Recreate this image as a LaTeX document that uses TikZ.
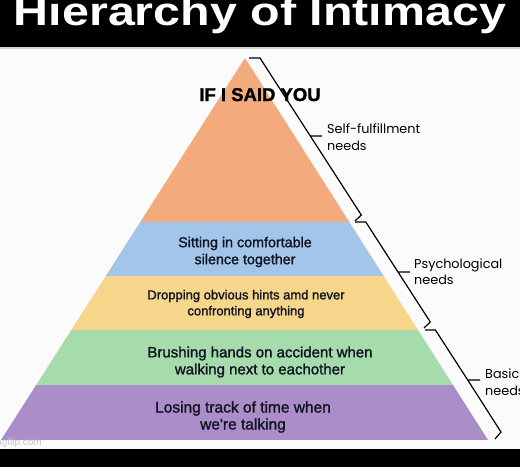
\documentclass[tikz,border=0pt]{standalone}
\usepackage{xcolor}
\usepackage{fontspec}
\usetikzlibrary{positioning}
\setmainfont{Liberation Sans}
\newfontfamily\layerfont{Liberation Sans}[FakeBold=1.4]
\newfontfamily\heavyfont{Liberation Sans Bold}[FakeBold=1.5]
\newfontfamily\needsfont{Poppins}
\definecolor{TopOrange} {HTML}{F3AA7D}
\definecolor{SkyBlue}   {HTML}{A2C5E9}
\definecolor{SoftYellow}{HTML}{F6D68A}
\definecolor{MintGreen} {HTML}{A6DBAC}
\definecolor{Lavender}  {HTML}{AB8DC9}
\definecolor{InkText}   {HTML}{101322}
\definecolor{PageBG}    {HTML}{FBFBFB}

\tikzset{
  layertext/.style={text=InkText,align=center,inner sep=0pt,
                    font=\layerfont\fontsize{14.3}{17}\selectfont},
  needslabel/.style={text=black,align=left,anchor=west,inner sep=0pt,
                     font=\needsfont\fontsize{12.8}{16.5}\selectfont},
  bracket/.style={draw=black,line width=1.2pt,line join=miter}
}

\begin{document}
\begin{tikzpicture}[x=1pt,y=-1pt]
    \clip (0,0) rectangle (520,467);
    \fill[PageBG] (0,0) rectangle (520,467);
    % pyramid layers
    \begin{scope}
      \clip (245,58) -- (488,440) -- (1,440) -- cycle;
      \fill[TopOrange]  (0,50)  rectangle (520,222);
      \fill[SkyBlue]    (0,222) rectangle (520,276);
      \fill[SoftYellow] (0,276) rectangle (520,330);
      \fill[MintGreen]  (0,330) rectangle (520,385);
      \fill[Lavender]   (0,385) rectangle (520,440);
    \end{scope}
    % title bands
    \fill[black] (0,0) rectangle (520,47);
    \draw[gray!35,line width=1.5pt] (0,48) -- (520,48);
    \fill[black] (0,449) rectangle (520,467);
    \node[anchor=base,text=white,inner sep=0pt,
          font=\fontsize{40}{40}\selectfont\bfseries] (title) at (260,25)
          {\scalebox{1.21}[1]{Hierarchy of Intimacy}};
    % texts in the layers
    \node[anchor=base,inner sep=0pt,text=black,
          font=\heavyfont\fontsize{18.5}{18}\selectfont] (saidyou) at (260,101)
          {IF I SAID YOU};
    \node[layertext] (silence) at (245,252)
          {Sitting in comfortable\\silence together};
    \node[layertext,font=\layerfont\fontsize{13}{16}\selectfont] (hints) at (246,304)
          {Dropping obvious hints amd never\\confronting anything};
    \node[layertext,font=\layerfont\fontsize{15}{17}\selectfont] (brushing) at (260,362)
          {Brushing hands on accident when\\walking next to eachother};
    \node[layertext,font=\layerfont\fontsize{15.5}{17}\selectfont] (losing) at (243,417)
          {Losing track of time when\\we're talking};
    \node[anchor=base east,inner sep=0pt,text=gray!45,
          font=\fontsize{10}{10}\selectfont] (mark) at (42,445) {imgflip.com};
    % brackets
    \draw[bracket] (249,58) -- (260,58) -- (310.3,136) -- (322,136)
          -- (310.3,136) -- (361.3,215) -- (355,221);
    \draw[bracket] (355,222) -- (365.8,222) -- (398,272) -- (410,272)
          -- (398,272) -- (430.3,322) -- (424,328);
    \draw[bracket] (425,330) -- (435.4,330) -- (467.7,380) -- (480,380)
          -- (467.7,380) -- (501,432) -- (495,439);
    \node[needslabel] (selfneeds) at (327,137) {Self-fulfillment\\needs};
    \node[needslabel] (psychneeds) at (414,271.5) {Psychological\\needs};
    \node[needslabel] (basicneeds) at (485,382) {Basic\\needs};
\end{tikzpicture}
\end{document}
